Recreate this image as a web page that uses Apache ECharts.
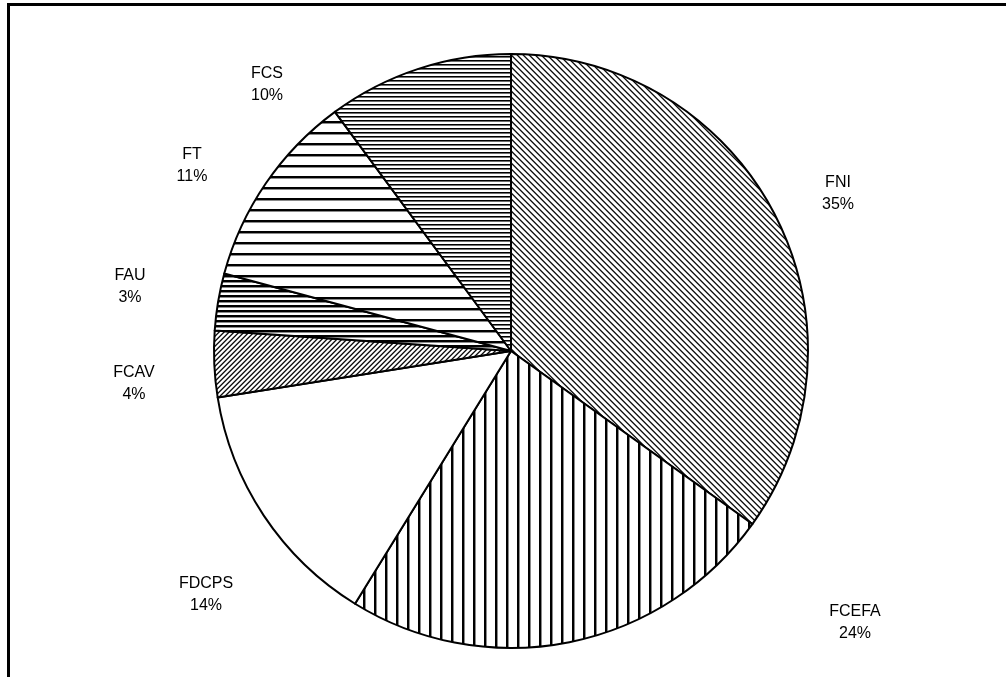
<!DOCTYPE html>
<html>
<head>
<meta charset="utf-8">
<script src="https://cdn.jsdelivr.net/npm/echarts@6/dist/echarts.min.js"></script>
<style>
  html, body { margin: 0; padding: 0; background: #fff; }
  #chart { width: 1006px; height: 677px; }
</style>
</head>
<body>
<div id="chart"></div>
<script>
// slice names and shares (percent), clockwise from 12 o'clock
const names = ['FNI', 'FCEFA', 'FDCPS', 'FCAV', 'FAU', 'FT', 'FCS'];
const shares = [34.9, 23.9, 13.7, 3.6, 3.1, 10.7, 10.1];

// label anchor points (centre of the two-line text), hand placed like the original
const labelPos = [[838, 194], [855, 623], [206, 595], [134, 384], [130, 287], [192, 166], [267, 85]];

function tile(w, h, draw) {
  const c = document.createElement('canvas');
  c.width = w; c.height = h;
  const ctx = c.getContext('2d');
  ctx.fillStyle = '#fff';
  ctx.fillRect(0, 0, w, h);
  draw(ctx, w, h);
  return c;
}
// horizontal stripes: black rows then one grey row
function hLines(period, dark, grey) {
  return tile(8, period, function (ctx, w) {
    ctx.fillStyle = '#000'; ctx.fillRect(0, 0, w, dark);
    ctx.fillStyle = grey || '#8a8a8a'; ctx.fillRect(0, dark, w, 1);
  });
}
function vLines(period, dark) {
  return tile(period, 8, function (ctx, w, h) {
    ctx.fillStyle = '#000'; ctx.fillRect(0, 0, dark, h);
    ctx.fillStyle = '#8a8a8a'; ctx.fillRect(dark, 0, 1, h);
  });
}
// diagonal stripes, dir 1 = "\" , -1 = "/"
function dLines(period, dir) {
  return tile(period, period, function (ctx, w, h) {
    for (let y = 0; y < h; y++) {
      for (let x = 0; x < w; x++) {
        const k = (((dir > 0 ? x - y : x + y) % period) + period) % period;
        if (k === 0) { ctx.fillStyle = '#111'; ctx.fillRect(x, y, 1, 1); }
        else if (k === 1) { ctx.fillStyle = '#666'; ctx.fillRect(x, y, 1, 1); }
        else if (k === period - 1) { ctx.fillStyle = '#bdbdbd'; ctx.fillRect(x, y, 1, 1); }
      }
    }
  });
}

const fills = [
  { image: dLines(6, 1), repeat: 'repeat' },          // FNI
  { image: vLines(11, 2), repeat: 'repeat' },         // FCEFA
  '#ffffff',                                          // FDCPS
  { image: dLines(5, -1), repeat: 'repeat' },         // FCAV
  { image: hLines(5, 2), repeat: 'repeat' },          // FAU
  { image: hLines(11, 2), repeat: 'repeat' },         // FT
  { image: hLines(4, 1, '#6e6e6e'), repeat: 'repeat' } // FCS
];

const myChart = echarts.init(document.getElementById('chart'));

let option = {
  animation: false,
  backgroundColor: '#fff',
  graphic: [{
    type: 'rect',
    shape: { x: 8.5, y: 4.5, width: 1100, height: 800 },
    style: { fill: 'none', stroke: '#000', lineWidth: 3 },
    silent: true
  }],
  series: [{
    type: 'pie',
    center: [511, 351],
    radius: 297,
    startAngle: 90,
    clockwise: true,
    avoidLabelOverlap: false,
    data: names.map(function (n, i) {
      return { name: n, value: shares[i], itemStyle: { color: fills[i] } };
    }),
    itemStyle: { borderColor: '#000', borderWidth: 2 },
    labelLine: { show: false },
    label: {
      show: true,
      position: 'outside',
      color: '#000',
      fontFamily: 'Liberation Sans, Arial, sans-serif',
      fontSize: 16,
      lineHeight: 22,
      formatter: function (p) { return p.name + '\n' + Math.round(p.percent) + '%'; }
    },
    labelLayout: function (p) {
      const pos = labelPos[p.dataIndex];
      return { x: pos[0], y: pos[1], align: 'center', verticalAlign: 'middle' };
    },
    emphasis: { disabled: true }
  }]
};
option && myChart.setOption(option);
</script>
</body>
</html>
